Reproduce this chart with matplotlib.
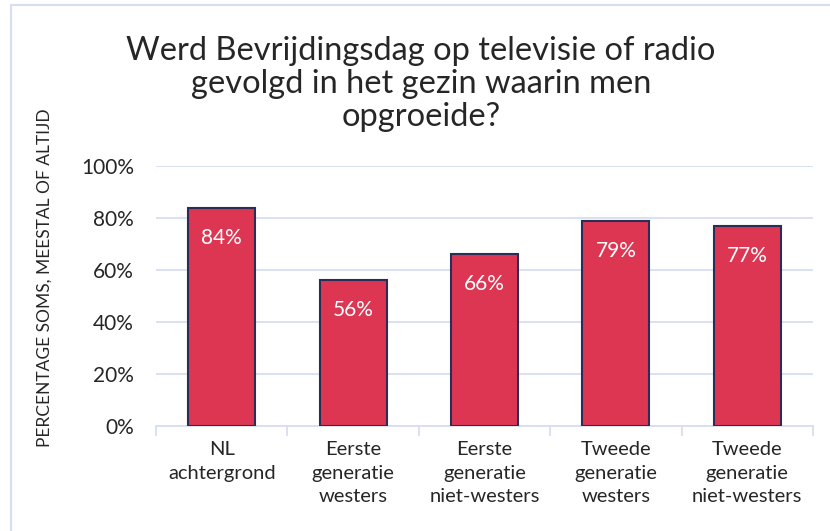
import matplotlib
matplotlib.use("Agg")
import matplotlib.pyplot as plt
from matplotlib.lines import Line2D

categories = ["NL\nachtergrond", "Eerste\ngeneratie\nwesters", "Eerste\ngeneratie\nniet-westers",
              "Tweede\ngeneratie\nwesters", "Tweede\ngeneratie\nniet-westers"]
values = [84, 56, 66, 79, 77]
yticks = [0, 20, 40, 60, 80, 100]
title = "Werd Bevrijdingsdag op televisie of radio\ngevolgd in het gezin waarin men\nopgroeide?"
ylabel = "PERCENTAGE SOMS, MEESTAL OF ALTIJD"

plt.rcParams['font.family'] = ['Lato', 'DejaVu Sans']
text_color = "#262626"
grid_color = "#D6DEF2"
bar_color = "#DC3652"
edge_color = "#2B2D55"

fig = plt.figure(figsize=(8.3, 5.31), dpi=100)
ax = fig.add_axes([156/830, 1-426/531, (813-156)/830, 260/531])

x = list(range(len(categories)))
bars = ax.bar(x, values, width=0.51, color=bar_color, edgecolor=edge_color, linewidth=1.5, zorder=3)
for xi, v in zip(x, values):
    ax.annotate(f"{v}%", (xi, v), xytext=(0, -30), textcoords="offset pixels",
                ha="center", va="center", color="white", fontsize=15, zorder=4)

ax.set_xlim(-0.5, len(categories) - 0.5)
ax.set_ylim(0, 100)
ax.set_yticks(yticks)
ax.set_yticklabels([f"{t}%" for t in yticks], fontsize=15, color=text_color)
ax.yaxis.grid(True, color=grid_color, linewidth=1.3, zorder=0)
ax.tick_params(axis='y', length=0, pad=16)
ax.set_xticks([i + 0.5 for i in range(-1, len(categories))], minor=False)
ax.set_xticklabels([])
ax.tick_params(axis='x', which='major', length=7, color=grid_color, width=1.3, direction='out')
ax.set_xticks(x, minor=True)
ax.set_xticklabels(categories, minor=True, fontsize=14.5, color=text_color, linespacing=1.45)
ax.tick_params(axis='x', which='minor', length=0, pad=11)
for s in ["top", "right", "left"]:
    ax.spines[s].set_visible(False)
ax.spines["bottom"].set_color(grid_color)
ax.spines["bottom"].set_linewidth(1.3)

fig.text(45/830, 1-278/531, ylabel, rotation=90, ha="center", va="center", fontsize=12.5, color=text_color)
fig.text(421/830, 1-84/531, title, ha="center", va="center", fontsize=23.5, color=text_color, linespacing=1.13)

fig.add_artist(Line2D([11/830, 1], [1-5/531, 1-5/531], transform=fig.transFigure, color=grid_color, linewidth=1.5))
fig.add_artist(Line2D([11/830, 11/830], [0, 1-5/531], transform=fig.transFigure, color=grid_color, linewidth=1.5))

fig.savefig("out.png", dpi=100)
